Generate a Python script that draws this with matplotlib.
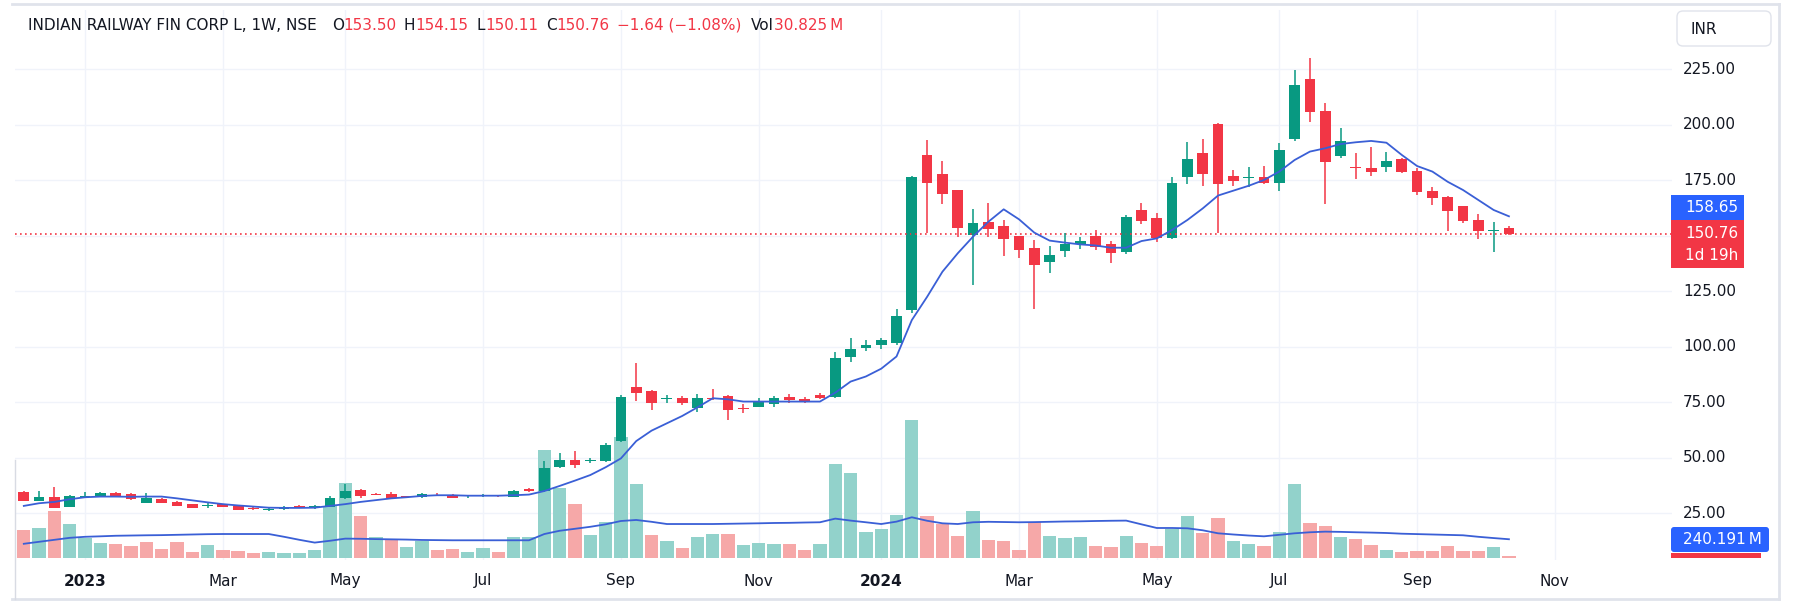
import matplotlib
matplotlib.use("Agg")
import matplotlib.pyplot as plt
import matplotlib.transforms as mtransforms
from matplotlib.patches import FancyBboxPatch, Rectangle

# ---------------- data (weekly bars, first bar = week of 5 Dec 2022) ----------------
opens = [34.6, 30.6, 32.2, 27.7, 32.0, 32.8, 34.0, 33.6, 29.7, 31.5,
         29.9, 29.0, 28.0, 28.9, 28.1, 27.4, 26.4, 26.6, 28.2, 27.1,
         27.8, 31.8, 35.4, 33.7, 33.6, 32.4, 32.1, 33.3, 33.1, 32.5,
         32.8, 33.0, 32.4, 35.7, 35.1, 45.9, 48.9, 48.4, 48.4, 57.4,
         81.8, 80.0, 76.4, 76.6, 72.3, 77.0, 77.7, 72.2, 72.9, 74.1,
         77.3, 76.4, 78.2, 77.3, 95.3, 99.5, 100.5, 101.5, 116.4, 186.3,
         177.7, 170.5, 150.2, 156.1, 154.3, 149.8, 144.4, 138.2, 143.0, 146.0,
         149.8, 146.0, 142.5, 161.5, 158.0, 149.0, 176.5, 187.2, 200.2, 177.0,
         176.0, 176.5, 173.8, 193.5, 220.3, 206.1, 185.8, 180.5, 180.6, 181.0,
         184.5, 179.0, 170.0, 167.5, 163.3, 157.0, 152.0, 153.50]
highs = [34.8, 35.1, 36.9, 33.3, 34.6, 34.5, 34.3, 34.0, 34.2, 31.7,
         30.2, 29.2, 29.7, 29.2, 28.4, 27.6, 27.3, 28.0, 28.6, 28.6,
         32.7, 38.1, 36.0, 34.2, 34.3, 32.8, 34.2, 33.8, 33.5, 33.2,
         33.6, 33.3, 35.3, 36.4, 48.6, 52.2, 52.9, 49.9, 56.5, 78.0,
         92.7, 80.2, 78.2, 77.7, 78.5, 80.9, 78.3, 74.1, 76.7, 77.7,
         78.5, 77.4, 79.0, 97.5, 104.0, 103.0, 104.0, 117.0, 177.0, 193.0,
         183.6, 170.6, 161.8, 164.8, 157.0, 150.0, 148.0, 145.3, 151.3, 149.5,
         152.5, 147.5, 159.4, 164.5, 160.0, 176.5, 192.3, 193.3, 200.5, 179.5,
         181.0, 181.3, 191.5, 224.5, 229.8, 209.8, 198.3, 187.3, 190.0, 187.6,
         184.8, 180.2, 172.0, 168.0, 163.5, 159.7, 156.2, 154.15]
lows = [30.4, 30.4, 27.2, 27.6, 31.6, 32.6, 32.5, 31.0, 29.5, 29.5,
        28.0, 27.2, 27.1, 27.7, 26.2, 26.5, 26.0, 26.4, 27.4, 26.9,
        27.5, 31.5, 31.6, 32.9, 31.2, 31.8, 31.9, 32.5, 31.6, 31.9,
        32.3, 32.2, 32.1, 34.5, 34.6, 45.4, 45.1, 47.6, 48.0, 57.0,
        75.6, 71.4, 74.7, 73.6, 70.6, 75.9, 66.9, 69.9, 72.6, 72.9,
        74.7, 74.4, 76.2, 77.0, 93.0, 98.0, 99.0, 100.5, 115.0, 151.0,
        164.2, 149.5, 127.7, 149.5, 140.8, 139.9, 116.9, 133.3, 140.5, 144.0,
        143.5, 137.5, 141.5, 155.2, 147.0, 148.5, 173.2, 172.4, 151.3, 172.3,
        171.7, 173.2, 170.2, 192.7, 201.3, 164.2, 184.8, 175.3, 176.8, 178.5,
        178.3, 168.2, 163.7, 152.2, 155.5, 148.3, 142.7, 150.11]
closes = [30.6, 32.4, 27.4, 32.7, 32.8, 34.0, 32.8, 31.2, 31.8, 29.7,
          28.3, 27.4, 28.4, 27.9, 26.3, 26.7, 26.6, 27.8, 27.6, 28.3,
          31.8, 35.1, 32.8, 33.3, 31.6, 32.1, 33.4, 32.8, 31.9, 32.7,
          33.0, 32.5, 34.8, 34.8, 45.3, 48.9, 46.8, 48.7, 55.6, 77.4,
          79.2, 74.7, 76.6, 74.7, 76.6, 76.4, 71.4, 71.9, 75.2, 76.7,
          75.9, 75.2, 76.7, 94.8, 98.9, 100.5, 103.0, 113.7, 176.4, 173.8,
          168.7, 153.5, 155.5, 153.1, 148.6, 143.5, 136.9, 141.2, 146.0, 147.5,
          144.8, 142.3, 158.5, 156.5, 149.0, 173.8, 184.5, 177.7, 173.2, 174.7,
          176.5, 173.8, 188.5, 217.8, 205.8, 183.3, 192.6, 180.2, 178.7, 183.6,
          178.7, 169.6, 167.0, 161.2, 156.7, 152.2, 152.3, 150.76]
# weekly volume, millions of shares
volumes_m = [357, 387, 596, 432, 252, 198, 185, 160, 205, 117,
             205, 79, 173, 105, 92, 72, 79, 72, 72, 105,
             659, 954, 538, 268, 231, 147, 218, 105, 117, 79,
             135, 79, 268, 268, 1365, 891, 684, 294, 457, 1533,
             936, 294, 218, 130, 268, 306, 306, 168, 193, 180,
             180, 105, 180, 1188, 1075, 331, 369, 546, 1743, 533,
             432, 281, 596, 231, 218, 105, 457, 281, 256, 268,
             155, 142, 281, 193, 155, 374, 533, 319, 513, 218,
             180, 155, 331, 936, 450, 407, 273, 243, 173, 105,
             79, 92, 92, 155, 92, 92, 142, 30.825]
# volume bar colour as shown: u = up (teal), d = down (pink)
volume_dir = ["d", "u", "d", "u", "u", "u", "d", "d", "d", "d",
              "d", "d", "u", "d", "d", "d", "u", "u", "u", "u",
              "u", "u", "d", "u", "d", "u", "u", "d", "d", "u",
              "u", "d", "u", "u", "u", "u", "d", "u", "u", "u",
              "u", "d", "u", "d", "u", "u", "d", "u", "u", "u",
              "d", "d", "u", "u", "u", "u", "u", "u", "u", "d",
              "d", "d", "u", "d", "d", "d", "d", "u", "u", "u",
              "d", "d", "u", "d", "d", "u", "u", "d", "d", "u",
              "u", "d", "u", "u", "d", "d", "u", "d", "d", "u",
              "d", "d", "d", "d", "d", "d", "u", "d"]
# moving average of price as drawn
ma_price = [28.2, 29.4, 30.0, 31.2, 32.1, 32.4, 32.4, 32.3, 32.4, 32.4,
            31.6, 30.7, 29.8, 29.0, 28.4, 27.9, 27.4, 27.3, 27.3, 27.4,
            28.2, 29.0, 30.0, 30.8, 31.6, 32.1, 32.7, 33.0, 33.0, 32.8,
            32.8, 32.8, 33.0, 33.3, 34.9, 37.2, 39.6, 42.1, 45.6, 49.6,
            57.4, 62.1, 65.4, 68.7, 72.6, 76.7, 76.2, 75.2, 75.2, 75.2,
            75.2, 75.2, 75.2, 79.2, 84.2, 86.5, 90.0, 95.5, 111.9, 122.4,
            133.7, 142.0, 149.5, 156.2, 161.8, 157.3, 151.3, 147.7, 146.8, 146.0,
            145.5, 144.5, 144.5, 147.5, 148.7, 152.5, 157.0, 162.2, 168.0, 170.2,
            172.4, 175.0, 178.8, 184.0, 187.8, 189.3, 191.2, 192.0, 192.6, 191.8,
            186.3, 181.3, 178.8, 174.2, 170.5, 166.0, 161.5, 158.65]
# moving average of volume as drawn, millions
ma_volume_m = [183, 208, 233, 258, 271, 277, 284, 287, 290, 292,
               296, 300, 304, 306, 306, 306, 306, 271, 233, 198,
               221, 248, 246, 242, 239, 236, 231, 229, 227, 227,
               227, 227, 227, 227, 306, 347, 372, 397, 428, 470,
               483, 460, 432, 432, 432, 432, 435, 438, 441, 445,
               447, 451, 454, 500, 475, 454, 432, 462, 517, 473,
               441, 432, 454, 460, 457, 454, 456, 460, 464, 466,
               470, 473, 475, 428, 382, 382, 378, 353, 315, 300,
               287, 277, 296, 315, 328, 336, 333, 328, 324, 319,
               310, 305, 300, 295, 290, 271, 255, 240.191]
month_ticks = [4, 13, 21, 30, 39, 48, 56, 65, 74, 82, 91, 100]
month_labels = ["2023", "Mar", "May", "Jul", "Sep", "Nov",
                "2024", "Mar", "May", "Jul", "Sep", "Nov"]
price_ticks = [25, 50, 75, 100, 125, 150, 175, 200, 225]
price_tick_labels = ["25.00", "50.00", "75.00", "100.00", "125.00", "",
                     "175.00", "200.00", "225.00"]
last_close = 150.76
header_parts = [("INDIAN RAILWAY FIN CORP L, 1W, NSE", "k", 15),
                ("O", "k", 0), ("153.50", "r", 7),
                ("H", "k", 0), ("154.15", "r", 8),
                ("L", "k", 0), ("150.11", "r", 8),
                ("C", "k", 0), ("150.76", "r", 7),
                ("\u22121.64 (\u22121.08%)", "r", 10),
                ("Vol", "k", 0), ("30.825\u2009M", "r", 0)]

# ---------------- style ----------------
GREEN = "#089981"
RED = "#f23645"
VOL_UP = "#92d2cb"
VOL_DN = "#f6a8a8"
MA_COL = "#3a5fd6"
TXT = "#131722"
GRID = "#f0f3fa"
BLUE_LBL = "#2962ff"
plt.rcParams["font.family"] = ["DejaVu Sans"]

W, H = 1793, 602
fig = plt.figure(figsize=(W / 100, H / 100), dpi=100)
fig.patch.set_facecolor("white")

PL, PR, PT, PB = 15, 1672, 10, 560
rect = [PL / W, 1 - PB / H, (PR - PL) / W, (PB - PT) / H]
XMIN, XMAX = -0.575, 107.65
PMIN, PMAX = 3.83, 251.58
VMIN, VMAX = -21.4, 6909

ax_grid = fig.add_axes(rect, zorder=0)
ax_vol = fig.add_axes(rect, zorder=1)
ax = fig.add_axes(rect, zorder=2)
for a in (ax_grid, ax_vol, ax):
    a.set_xlim(XMIN, XMAX)
    a.patch.set_alpha(0)
    for s in a.spines.values():
        s.set_visible(False)
    a.set_xticks([])
    a.set_yticks([])
ax_grid.set_ylim(PMIN, PMAX)
ax.set_ylim(PMIN, PMAX)
ax_vol.set_ylim(VMIN, VMAX)

# grid
for p in price_ticks:
    ax_grid.axhline(p, color=GRID, lw=1)
for m in month_ticks:
    ax_grid.axvline(m, color=GRID, lw=1)

n = len(closes)
idx = list(range(n))

# volume
vcols = [VOL_UP if d == "u" else VOL_DN for d in volume_dir]
ax_vol.bar(idx, volumes_m, width=0.87, color=vcols, linewidth=0)
ax_vol.plot(idx, ma_volume_m, color=MA_COL, lw=1.3)

# candles
for i in idx:
    o, h, l, c = opens[i], highs[i], lows[i], closes[i]
    col = GREEN if c >= o else RED
    ax.vlines(i, l, h, color=col, lw=1.1)
    body = max(abs(c - o), 0.45)
    ax.bar(i, body, bottom=min(o, c), width=0.7, color=col, linewidth=0)

ax.plot(idx, ma_price, color=MA_COL, lw=1.3, zorder=5)
ax.axhline(last_close, color=RED, lw=1.2, linestyle=(0, (1, 2)), zorder=1)

# price axis labels
tr = mtransforms.blended_transform_factory(fig.transFigure, ax.transData)
for p, lab in zip(price_ticks, price_tick_labels):
    if lab:
        ax.text(1683 / W, p, lab, transform=tr, ha="left", va="center",
                fontsize=11, color=TXT, clip_on=False)

# time axis labels
trx = mtransforms.blended_transform_factory(ax.transData, fig.transFigure)
for m, lab in zip(month_ticks, month_labels):
    bold = lab.isdigit()
    ax.text(m, 1 - 581 / H, lab, transform=trx, ha="center", va="center",
            fontsize=11, color=TXT, fontweight="bold" if bold else "normal",
            clip_on=False)

# overlay in pixel coordinates for labels, borders, header
ov = fig.add_axes([0, 0, 1, 1], zorder=10)
ov.set_xlim(0, W)
ov.set_ylim(H, 0)
ov.axis("off")
ov.patch.set_alpha(0)

BORDER = "#e0e3eb"
ov.plot([12, 1779], [4, 4], color=BORDER, lw=2)
ov.plot([1779, 1779], [4, 599], color=BORDER, lw=2)
ov.plot([12, 1779], [599, 599], color=BORDER, lw=2)
ov.plot([15, 15], [460, 599], color="#d8dbe3", lw=1)

# INR box
ov.add_patch(FancyBboxPatch((1677, 11), 94, 35, boxstyle="round,pad=0,rounding_size=6",
                            fc="white", ec=BORDER, lw=1))
ov.text(1690, 29, "INR", ha="left", va="center", fontsize=11, color=TXT)

# MA price label and last price label
ov.add_patch(Rectangle((1671, 195), 73, 25, fc=BLUE_LBL, ec="none"))
ov.text(1685, 207.5, "158.65", ha="left", va="center", fontsize=11, color="white")
ov.add_patch(Rectangle((1671, 220), 73, 48, fc=RED, ec="none"))
ov.text(1685, 233, "150.76", ha="left", va="center", fontsize=11, color="white")
ov.text(1685, 256, "1d 19h", ha="left", va="center", fontsize=11, color="white")

# volume labels
ov.add_patch(Rectangle((1671, 553), 90, 4.5, fc=RED, ec="none"))
ov.add_patch(FancyBboxPatch((1671, 527), 98, 25, boxstyle="round,pad=0,rounding_size=3",
                            fc=BLUE_LBL, ec="none"))
ov.text(1683, 540, "240.191\u2009M", ha="left", va="center", fontsize=11, color="white")

# header
renderer = fig.canvas.get_renderer()
x = 28
for txt, c, gap in header_parts:
    t = ov.text(x, 30, txt, ha="left", va="baseline", fontsize=11,
                color=TXT if c == "k" else RED)
    bb = t.get_window_extent(renderer=renderer)
    x += bb.width + gap

fig.savefig("out.png", dpi=100, facecolor="white")
